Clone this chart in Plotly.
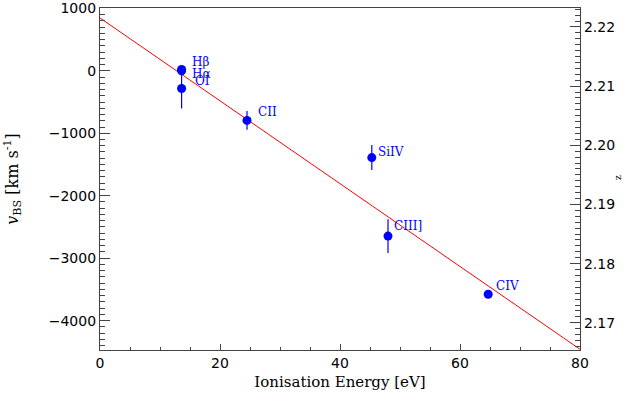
import numpy as np
import plotly.graph_objects as go

# ---- data ----
lines = ["Hβ", "Hα", "OI", "CII", "SiIV", "CIII]", "CIV"]
energy_ev = [13.6, 13.6, 13.6, 24.5, 45.3, 48.0, 64.7]
v_bs = [20, 0, -283, -794, -1390, -2647, -3578]
v_err = [50, 60, 320, 150, 200, 270, 40]
fit_intercept = 845.0
fit_slope = -66.3
x_ticks = [0, 20, 40, 60, 80]
y_ticks = [-4000, -3000, -2000, -1000, 0, 1000]
z_ticks = [2.17, 2.18, 2.19, 2.20, 2.21, 2.22]

# label placement offsets (pixels) for each line name
label_dx = [8, 8, 11, 9, 4, 4, 6]
label_dy = [8, -3, 7, 8, 6, 10, 8]

x_range = [0, 80]
y_range = [-4470, 1005]
z_range = [2.1654, 2.2232]

fig = go.Figure()

fx = np.array(x_range, dtype=float)
fig.add_trace(go.Scatter(x=fx, y=fit_intercept + fit_slope * fx, mode="lines",
                         line=dict(color="red", width=1), hoverinfo="skip",
                         showlegend=False))

fig.add_trace(go.Scatter(x=energy_ev, y=v_bs, mode="markers",
                         marker=dict(color="blue", size=9),
                         error_y=dict(type="data", array=v_err, color="blue",
                                      thickness=1.2, width=0),
                         showlegend=False))

# invisible trace for secondary axis
fig.add_trace(go.Scatter(x=[None], y=[None], yaxis="y2", showlegend=False))

for name, e, v, dx, dy in zip(lines, energy_ev, v_bs, label_dx, label_dy):
    fig.add_annotation(x=e, y=v, xref="x", yref="y", text=name, showarrow=False,
                       xanchor="left", yanchor="middle", xshift=dx, yshift=dy,
                       font=dict(family="DejaVu Serif", size=12, color="blue"))

fig.add_annotation(x=1.094, y=0.503, xref="paper", yref="paper", text="z",
                   showarrow=False, textangle=-90,
                   font=dict(family="DejaVu Serif", size=9, color="black"))

axcol = "#444444"
tickfont = dict(family="DejaVu Sans", size=14, color="black")

fig.update_layout(
    width=640, height=407,
    margin=dict(l=100, r=60, t=8, b=57, autoexpand=False),
    paper_bgcolor="white", plot_bgcolor="white",
    xaxis=dict(range=x_range, tickvals=x_ticks, ticks="inside", ticklen=6,
               tickcolor=axcol, showline=True, linecolor=axcol, linewidth=1.2,
               mirror=True, showgrid=False, zeroline=False, tickfont=tickfont,
               automargin=False,
               minor=dict(dtick=5, ticks="inside", ticklen=3, tickcolor=axcol),
               title=dict(text="Ionisation Energy [eV]",
                          font=dict(family="DejaVu Serif", size=15, color="black"),
                          standoff=6)),
    yaxis=dict(range=y_range, tickvals=y_ticks, ticks="inside", ticklen=10,
               tickcolor=axcol, showline=True, linecolor=axcol, linewidth=1.2,
               showgrid=False, zeroline=False, tickfont=tickfont,
               automargin=False,
               minor=dict(dtick=100, tick0=0, ticks="inside", ticklen=5, tickcolor=axcol),
               title=dict(text="<i>v</i><sub>BS</sub> [km s<sup>-1</sup>]",
                          font=dict(family="DejaVu Serif", size=16, color="black"),
                          standoff=26)),
    yaxis2=dict(range=z_range, overlaying="y", side="right", tickvals=z_ticks,
                ticktext=["%.2f" % t for t in z_ticks],
                ticks="inside", ticklen=10, tickcolor=axcol, showline=True,
                linecolor=axcol, linewidth=1.2, showgrid=False, zeroline=False,
                tickfont=tickfont, automargin=False,
                minor=dict(dtick=0.001, tick0=2.17, ticks="inside", ticklen=5,
                           tickcolor=axcol)),
)

fig.write_html("out.html", config={"displayModeBar": False},
               post_script="document.body.style.margin='0';")
